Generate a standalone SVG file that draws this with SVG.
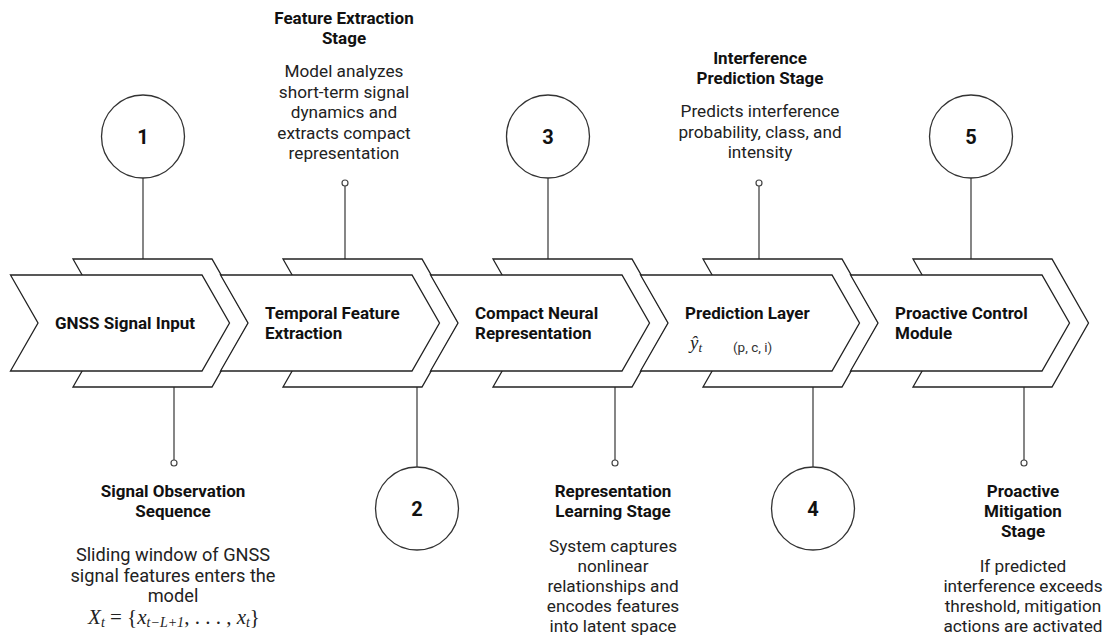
<svg xmlns="http://www.w3.org/2000/svg" width="1107" height="639" viewBox="0 0 1107 639">
<style>
.back,.front{fill:#fff;stroke:#222;stroke-width:1.3;stroke-linejoin:miter}
.circ{fill:#fff;stroke:#333;stroke-width:1.3}
.dot{fill:#fff;stroke:#444;stroke-width:1.2}
.ln{stroke:#444;stroke-width:1.3;fill:none}
.num{font-family:Roboto,"Liberation Sans",sans-serif;font-weight:700;font-size:20px;fill:#111;text-anchor:middle}
.lbl{font-family:Roboto,"Liberation Sans",sans-serif;font-weight:700;font-size:17px;fill:#111}
.ttl{font-family:Roboto,"Liberation Sans",sans-serif;font-weight:700;font-size:17px;fill:#111;text-anchor:middle}
.dsc{font-family:Roboto,"Liberation Sans",sans-serif;font-size:17.2px;fill:#222;text-anchor:middle}
.dscL{font-size:18.2px}
.math{font-family:"Liberation Serif","DejaVu Serif",serif;font-style:italic;fill:#222}
.sm{font-family:Roboto,"Liberation Sans",sans-serif;font-size:13.5px;fill:#333}
</style>
<g id="connectors">
<line class="ln" x1="143" y1="178" x2="143" y2="259"/>
<line class="ln" x1="345" y1="186" x2="345" y2="259"/>
<line class="ln" x1="548" y1="178" x2="548" y2="259"/>
<line class="ln" x1="759" y1="186" x2="759" y2="259"/>
<line class="ln" x1="971" y1="178" x2="971" y2="259"/>
<line class="ln" x1="174" y1="387" x2="174" y2="460"/>
<line class="ln" x1="417" y1="387" x2="417" y2="467"/>
<line class="ln" x1="615" y1="387" x2="615" y2="460"/>
<line class="ln" x1="813" y1="387" x2="813" y2="467"/>
<line class="ln" x1="1024" y1="387" x2="1024" y2="460"/>
<circle class="dot" cx="345" cy="183" r="3"/>
<circle class="dot" cx="759" cy="183" r="3"/>
<circle class="dot" cx="174" cy="463" r="3"/>
<circle class="dot" cx="615" cy="463" r="3"/>
<circle class="dot" cx="1024" cy="463" r="3"/>
</g>
<g id="stage1">
<polygon class="back" points="73,259 212,259 248.5,323 212,387 73,387 109.5,323"/>
<polygon class="front" points="10.5,275 202,275 229.5,323 202,371 10.5,371 38,323"/>
<text class="lbl" x="55" y="329">GNSS Signal Input</text>
</g>
<g id="stage2">
<polygon class="back" points="283,259 422,259 458.5,323 422,387 283,387 319.5,323"/>
<polygon class="front" points="220.5,275 412,275 439.5,323 412,371 220.5,371 248,323"/>
<text class="lbl" x="265" y="319">Temporal Feature</text>
<text class="lbl" x="265" y="339">Extraction</text>
</g>
<g id="stage3">
<polygon class="back" points="493,259 632,259 668.5,323 632,387 493,387 529.5,323"/>
<polygon class="front" points="430.5,275 622,275 649.5,323 622,371 430.5,371 458,323"/>
<text class="lbl" x="475" y="319">Compact Neural</text>
<text class="lbl" x="475" y="339">Representation</text>
</g>
<g id="stage4">
<polygon class="back" points="703,259 842,259 878.5,323 842,387 703,387 739.5,323"/>
<polygon class="front" points="640.5,275 832,275 859.5,323 832,371 640.5,371 668,323"/>
<text class="lbl" x="685" y="319">Prediction Layer</text>
<text class="math" x="690" y="349" font-size="19">ŷ<tspan font-size="13" dy="3">t</tspan></text>
<text class="sm" x="733" y="352">(p, c, i)</text>
</g>
<g id="stage5">
<polygon class="back" points="913,259 1052,259 1088.5,323 1052,387 913,387 949.5,323"/>
<polygon class="front" points="850.5,275 1042,275 1069.5,323 1042,371 850.5,371 878,323"/>
<text class="lbl" x="895" y="319">Proactive Control</text>
<text class="lbl" x="895" y="339">Module</text>
</g>
<g id="marker1">
<circle class="circ" cx="143" cy="136.5" r="41.5"/>
<text class="num" x="143" y="143.5">1</text>
</g>
<g id="marker2">
<circle class="circ" cx="417" cy="508.5" r="41.5"/>
<text class="num" x="417" y="515.5">2</text>
</g>
<g id="marker3">
<circle class="circ" cx="548" cy="136.5" r="41.5"/>
<text class="num" x="548" y="143.5">3</text>
</g>
<g id="marker4">
<circle class="circ" cx="813" cy="508.5" r="41.5"/>
<text class="num" x="813" y="515.5">4</text>
</g>
<g id="marker5">
<circle class="circ" cx="971" cy="136.5" r="41.5"/>
<text class="num" x="971" y="143.5">5</text>
</g>
<g id="note1">
<text class="ttl" x="173" y="497">Signal Observation</text>
<text class="ttl" x="173" y="517">Sequence</text>
<text class="dsc dscL" x="173" y="561">Sliding window of GNSS</text>
<text class="dsc dscL" x="173" y="581.5">signal features enters the</text>
<text class="dsc dscL" x="173" y="602">model</text>
<text class="math" x="174" y="624" font-size="21" text-anchor="middle"><tspan>X</tspan><tspan font-size="14" dy="3">t</tspan><tspan dy="-3" font-style="normal"> = {</tspan><tspan>x</tspan><tspan font-size="14" dy="3">t−L+1</tspan><tspan dy="-3" font-style="normal">, . . . , </tspan><tspan>x</tspan><tspan font-size="14" dy="3">t</tspan><tspan dy="-3" font-style="normal">}</tspan></text>
</g>
<g id="note2">
<text class="ttl" x="344" y="24">Feature Extraction</text>
<text class="ttl" x="344" y="44">Stage</text>
<text class="dsc" x="344" y="77">Model analyzes</text>
<text class="dsc" x="344" y="97.5">short-term signal</text>
<text class="dsc" x="344" y="118">dynamics and</text>
<text class="dsc" x="344" y="138.5">extracts compact</text>
<text class="dsc" x="344" y="159">representation</text>
</g>
<g id="note3">
<text class="ttl" x="613" y="497">Representation</text>
<text class="ttl" x="613" y="517">Learning Stage</text>
<text class="dsc" x="613" y="552">System captures</text>
<text class="dsc" x="613" y="572">nonlinear</text>
<text class="dsc" x="613" y="592">relationships and</text>
<text class="dsc" x="613" y="612">encodes features</text>
<text class="dsc" x="613" y="632">into latent space</text>
</g>
<g id="note4">
<text class="ttl" x="760" y="64">Interference</text>
<text class="ttl" x="760" y="84">Prediction Stage</text>
<text class="dsc" x="760" y="117">Predicts interference</text>
<text class="dsc" x="760" y="137.5">probability, class, and</text>
<text class="dsc" x="760" y="158">intensity</text>
</g>
<g id="note5">
<text class="ttl" x="1023" y="497">Proactive</text>
<text class="ttl" x="1023" y="517">Mitigation</text>
<text class="ttl" x="1023" y="537">Stage</text>
<text class="dsc" x="1023" y="572">If predicted</text>
<text class="dsc" x="1023" y="592">interference exceeds</text>
<text class="dsc" x="1023" y="612">threshold, mitigation</text>
<text class="dsc" x="1023" y="632">actions are activated</text>
</g>
</svg>
